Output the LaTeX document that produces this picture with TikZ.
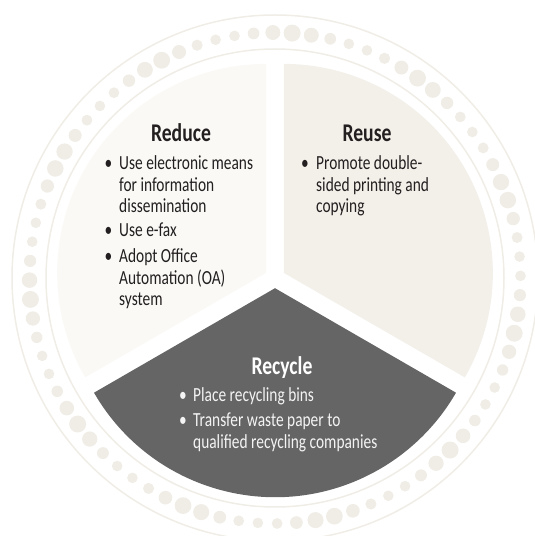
\documentclass[tikz,border=0pt]{standalone}
\usepackage{fontspec}
\setmainfont{Carlito}[FakeStretch=0.77]
\usepackage{xcolor}
\usetikzlibrary{positioning}
\usetikzlibrary{calc}
\definecolor{ringcol}{HTML}{F0EDE6}
\definecolor{reducecol}{HTML}{FAF9F6}
\definecolor{reusecol}{HTML}{F3F0EA}
\definecolor{recyclecol}{HTML}{656565}
\definecolor{inkcol}{HTML}{231F20}
\definecolor{paleink}{HTML}{F4F4F4}
\newcommand{\itemlines}[1]{\begin{tabular}[t]{@{}l@{}}#1\end{tabular}}
\tikzset{
  head/.style={anchor=base, inner sep=0pt, font=\fontsize{25.5}{25.5}\selectfont\bfseries},
  itemtext/.style={anchor=base west, inner sep=0pt, font=\fontsize{20}{21.2}\selectfont},
  bul/.style={anchor=base, inner sep=0pt, font=\fontsize{20}{21.2}\selectfont},
}

\begin{document}
\begin{tikzpicture}[x=1pt, y=1pt]
  \useasboundingbox (0,0) rectangle (535,536);
  \clip (0,0) rectangle (535,536);
  \coordinate (ctr) at (275,258);

  % dotted ring
  \draw[ringcol, line width=1.5pt] (ctr) circle[radius=263];
  \draw[ringcol, line width=1.5pt] (ctr) circle[radius=229];
  \foreach \i in {0,...,79} {
    \pgfmathsetmacro{\ang}{86+4.5*\i}
    \pgfmathsetmacro{\rad}{5.3+3.2*((1+cos(11*(\ang-86)))/2)^2}
    \fill[ringcol] ($(ctr)+(\ang:245.5)$) circle[radius=\rad];
  }

  % three sectors
  \fill[reducecol] ($(ctr)+(150:10.2)$) -- ++(90:209) arc[start angle=90, end angle=210, radius=209] -- cycle;
  \fill[reusecol] ($(ctr)+(30:10.2)$) -- ++(-30:209) arc[start angle=-30, end angle=90, radius=209] -- cycle;
  \fill[recyclecol] ($(ctr)+(270:10.2)$) -- ++(210:209) arc[start angle=210, end angle=330, radius=209] -- cycle;

  \node[head, inkcol] (RedH) at (181,394) {Reduce};
  \node[bul, inkcol] (RedB1) at (108.5,366) {\textbullet};
  \node[itemtext, inkcol] (Red1) at (119,366) {\itemlines{Use electronic means\\for information\\dissemination}};
  \node[bul, inkcol] (RedB2) at (108.5,299) {\textbullet};
  \node[itemtext, inkcol] (Red2) at (119,299) {\itemlines{Use e-fax}};
  \node[bul, inkcol] (RedB3) at (108.5,273) {\textbullet};
  \node[itemtext, inkcol] (Red3) at (119,273) {\itemlines{Adopt Office\\Automation (OA)\\system}};

  \node[head, inkcol] (ReuH) at (367,394) {Reuse};
  \node[bul, inkcol] (ReuB1) at (305,366) {\textbullet};
  \node[itemtext, inkcol] (Reu1) at (316,366) {\itemlines{Promote double-\\sided printing and\\copying}};

  \node[head, white] (RecH) at (282,161) {Recycle};
  \node[bul, paleink] (RecB1) at (183,134) {\textbullet};
  \node[itemtext, paleink] (Rec1) at (193,134) {\itemlines{Place recycling bins}};
  \node[bul, paleink] (RecB2) at (183,109) {\textbullet};
  \node[itemtext, paleink] (Rec2) at (193,109) {\itemlines{Transfer waste paper to\\qualified recycling companies}};
\end{tikzpicture}
\end{document}
